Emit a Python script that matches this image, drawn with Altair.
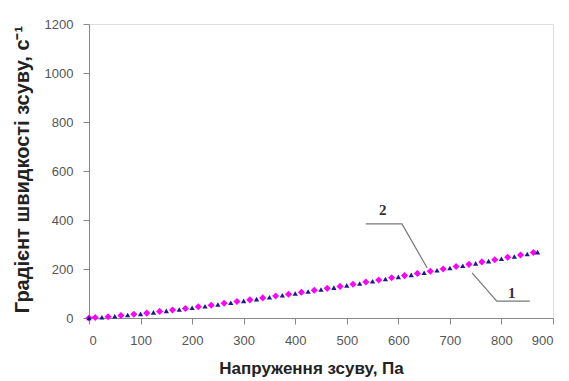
import altair as alt
import pandas as pd

# shear stress, Pa
x_vals = [0, 25, 50, 75, 100, 125, 150, 175, 200, 225, 250, 275, 300, 325, 350,
          375, 400, 425, 450, 475, 500, 525, 550, 575, 600, 625, 650, 675, 700,
          725, 750, 775, 800, 825, 850, 870]
# series 1 (navy)
y1 = [0, 3, 7, 12, 17, 23, 29, 35, 42, 48, 55, 62, 70, 77, 85, 93, 100, 108,
      116, 124, 133, 141, 150, 159, 168, 176, 185, 195, 204, 213, 223, 232,
      242, 251, 261, 269]
# series 2 (magenta)
x2_vals = [0, 12, 37, 62, 87, 112, 137, 162, 187, 212, 237, 262, 287, 312, 337,
           362, 387, 412, 437, 462, 487, 512, 537, 562, 587, 612, 637, 662, 687,
           712, 737, 762, 787, 812, 837, 862]
y2 = [0, 2, 5, 10, 15, 20, 27, 33, 39, 46, 52, 60, 67, 74, 82, 90, 97, 105, 113,
      121, 129, 138, 147, 155, 164, 173, 182, 191, 200, 210, 219, 229, 238, 248,
      257, 267]

# annotation leader lines (data units)
lead_id = ["2", "2", "2", "1", "1", "1"]
lead_x = [537, 607, 656, 743, 791, 855]
lead_y = [384, 384, 204, 184, 69, 69]
lead_ord = [0, 1, 2, 0, 1, 2]
lab_text = ["2", "1"]
lab_x = [570, 820]
lab_y = [440, 102]

s1 = pd.DataFrame({"x": x_vals, "y": y1})
s2 = pd.DataFrame({"x": x2_vals, "y": y2})
leads = pd.DataFrame({"id": lead_id, "x": lead_x, "y": lead_y, "o": lead_ord})
labs = pd.DataFrame({"t": lab_text, "x": lab_x, "y": lab_y})

xscale = alt.Scale(domain=[0, 900], nice=False)
yscale = alt.Scale(domain=[0, 1200], nice=False)

xaxis = alt.Axis(values=list(range(0, 901, 100)), title="Напруження зсуву, Па",
                 format="d",
                 grid=False, labelFontSize=13, labelColor="#555", labelPadding=10,
                 tickSize=6, tickColor="#888", domainColor="#888",
                 titleFontSize=17, titleFontWeight="bold", titleColor="#222",
                 titleX=222, titleY=50, titleBaseline="middle", titleAlign="center")
yaxis = alt.Axis(values=list(range(0, 1201, 200)), title="Градієнт швидкості зсуву, с⁻¹",
                 format="d",
                 grid=False, labelFontSize=13, labelColor="#555", labelPadding=10,
                 tickSize=6, tickColor="#888", domainColor="#888",
                 titleFontSize=20, titleFontWeight="bold", titleColor="#222",
                 titleX=-67, titleY=145, titleBaseline="middle", titleAlign="center",
                 titleAngle=-90)

leader = alt.Chart(leads).mark_line(color="#777", strokeWidth=1.2).encode(
    x=alt.X("x:Q", scale=xscale, axis=xaxis),
    y=alt.Y("y:Q", scale=yscale, axis=yaxis),
    detail="id:N", order="o:Q")

m2 = alt.Chart(s2).mark_point(shape="diamond", filled=True, color="#ff00ff",
                              size=50, opacity=1).encode(x="x:Q", y="y:Q")
m1 = alt.Chart(s1).mark_point(shape="triangle-up", filled=True, color="#1a1a8c",
                              size=28, opacity=1).encode(x="x:Q", y="y:Q")

text = alt.Chart(labs).mark_text(font="Liberation Serif", fontSize=15,
                                 fontWeight="bold", color="#333").encode(
    x="x:Q", y="y:Q", text="t:N")

chart = alt.layer(leader, m2, m1, text).properties(
    width=464, height=294,
    autosize=alt.AutoSizeParams(type="none"),
    padding={"left": 89, "top": 24, "right": 16, "bottom": 63},
).configure_view(stroke="#888", strokeWidth=1).configure(
    font="Liberation Sans", background="white")

chart.save("out.html", embed_options={"renderer": "svg", "actions": False})
